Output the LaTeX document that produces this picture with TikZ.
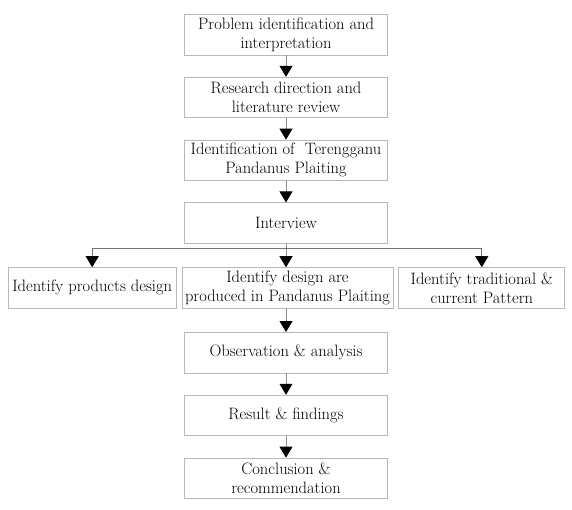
\documentclass[tikz,border=0pt]{standalone}
\usetikzlibrary{positioning,arrows.meta}

\tikzset{
  stepbox/.style={draw=black!28, line width=0.8pt, minimum width=203pt, minimum height=40.5pt,
    inner sep=1pt, align=center, font=\fontsize{16.5}{19}\selectfont},
  flow/.style={draw=black!45, line width=0.8pt, -{Triangle[length=11pt,width=13pt,black]}}
}

\begin{document}
\begin{tikzpicture}[node distance=21.5pt]
          \useasboundingbox (0,0) rectangle (572pt,-509pt);

          \node[stepbox] (1) at (286pt,-34.65pt) {Problem identification and\\interpretation};
          \node[stepbox,below=of 1] (2) {Research direction and\\literature review};
          \node[stepbox,below=of 2] (3) {Identification of~ Terengganu\\Pandanus Plaiting};
          \node[stepbox,below=of 3] (4) {Interview};

          \node[stepbox,below=23.5pt of 4,minimum width=211pt,xshift=1.5pt] (6) {Identify design are\\produced in Pandanus Plaiting};
          \node[stepbox,left=5pt of 6,minimum width=168pt] (5) {Identify products design};
          \node[stepbox,right=5pt of 6,minimum width=166pt] (7) {Identify traditional \&\\current Pattern};

          \node[stepbox,below=23.5pt of 6,xshift=-1.5pt] (8) {Observation \& analysis};
          \node[stepbox,below=of 8] (9) {Result \& findings};
          \node[stepbox,below=of 9] (10) {Conclusion \&\\recommendation};

          \coordinate[below=5pt of 4] (split);

          \draw[flow] (1) -- (2);
          \draw[flow] (2) -- (3);
          \draw[flow] (3) -- (4);
          \draw[flow] (4) -- (6.north -| 4);
          \draw[flow] (6.south -| 8) -- (8);
          \draw[flow] (8) -- (9);
          \draw[flow] (9) -- (10);

          \draw[flow,draw=black!55] (split) -| (5);
          \draw[flow,draw=black!55] (split) -| (7);
        \end{tikzpicture}
\end{document}
